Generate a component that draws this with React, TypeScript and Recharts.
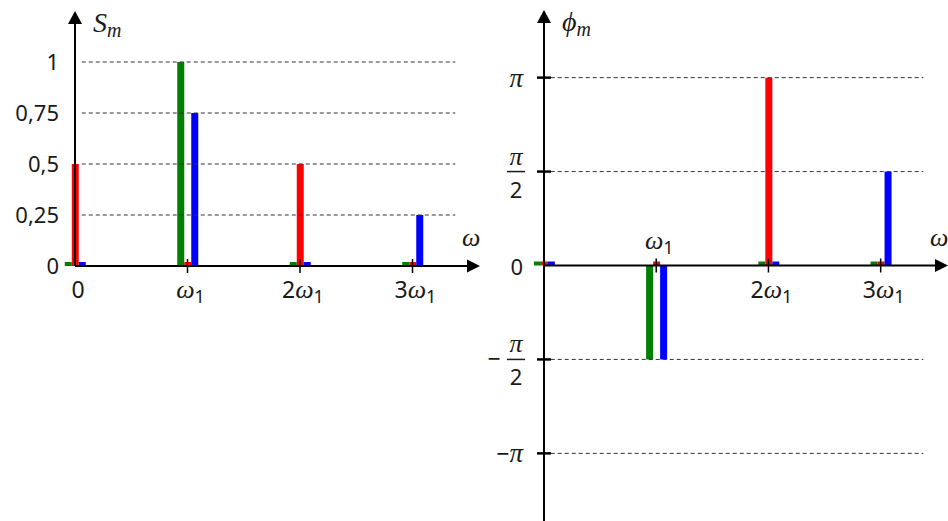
import React from 'react';
import { BarChart, Bar, XAxis, YAxis, ReferenceLine, ReferenceDot } from 'recharts';

// harmonic index m (frequency m·ω1)
const harmonics = [0, 1, 2, 3];
const harmonicLabels = ['0', 'ω1', '2ω1', '3ω1'];

// amplitude spectrum S_m of the three signals
const ampGreen = [0, 1, 0, 0];
const ampRed = [0.5, 0, 0.5, 0];
const ampBlue = [0, 0.75, 0, 0.25];
const ampTicks = [0, 0.25, 0.5, 0.75, 1];
const ampTickLabels = ['0', '0,25', '0,5', '0,75', '1'];

// phase spectrum φ_m, in multiples of π
const phaseGreen = [0, -0.5, 0, 0];
const phaseRed = [0, 0, 1, 0];
const phaseBlue = [0, -0.5, 0, 0.5];
const phaseTicks = [-1, -0.5, 0, 0.5, 1];
const phaseTickLabels = ['−π', '−π/2', '0', 'π/2', 'π'];

const GREEN = '#008000';
const RED = '#ff0000';
const BLUE = '#0000ff';
const INK = '#1a1a1a';
const SANS = '"Noto Sans", "Open Sans", sans-serif';
const MATH = '"Liberation Serif", "DejaVu Serif", serif';
const X_MAX = 3.6;
const GRID_X0 = 0.06;
const GRID_X1 = 3.38;

const ampData = harmonics.map((h, i) => ({ h, g: ampGreen[i], r: ampRed[i], b: ampBlue[i] }));
const phaseData = harmonics.map((h, i) => ({ h, g: phaseGreen[i], r: phaseRed[i], b: phaseBlue[i] }));

// "2ω1" -> 2, italic ω, subscript 1
function omegaText(label: string) {
  const k = label.indexOf('ω');
  if (k < 0) return <tspan fontFamily={SANS}>{label}</tspan>;
  return (
    <>
      {k > 0 && <tspan fontFamily={SANS}>{label.slice(0, k)}</tspan>}
      <tspan fontFamily={MATH} fontStyle="italic" fontSize={26}>ω</tspan>
      <tspan fontFamily={SANS} fontSize={18} dy={5}>{label.slice(k + 1)}</tspan>
    </>
  );
}

const xAxisArrow = (p: any) => {
  const y = p.y1;
  const xs = Math.min(p.x1, p.x2);
  const xe = Math.max(p.x1, p.x2);
  return (
    <g>
      <line x1={xs} y1={y} x2={xe - 10} y2={y} stroke="#000" strokeWidth={2} />
      <polygon points={`${xe},${y} ${xe - 13},${y - 6.5} ${xe - 13},${y + 6.5}`} fill="#000" />
    </g>
  );
};

const yAxisArrow = (p: any) => {
  const x = p.x1;
  const top = Math.min(p.y1, p.y2);
  const bottom = Math.max(p.y1, p.y2);
  return (
    <g>
      <line x1={x} y1={bottom} x2={x} y2={top + 10} stroke="#000" strokeWidth={2} />
      <polygon points={`${x},${top} ${x - 7},${top + 13} ${x + 7},${top + 13}`} fill="#000" />
    </g>
  );
};

function xTickShape(label: string, mark: boolean, showLabel: boolean, above: boolean) {
  return (p: any) => (
    <g>
      {mark && <line x1={p.cx} y1={p.cy - 7} x2={p.cx} y2={p.cy + 7} stroke="#000" strokeWidth={1.5} />}
      {showLabel && (
        <text x={p.cx + 3} y={above ? p.cy - 17 : p.cy + 32} textAnchor="middle" fontSize={23} fill={INK}>
          {omegaText(label)}
        </text>
      )}
    </g>
  );
}

const AmpTick = (p: any) => {
  const { x, y, payload } = p;
  const label = ampTickLabels[ampTicks.indexOf(payload.value)];
  return (
    <text x={x - 16} y={y + 8} textAnchor="end" fontFamily={SANS} fontSize={22} fill={INK}>
      {label}
    </text>
  );
};

const PhaseTick = (p: any) => {
  const { x, y, payload } = p;
  const label = phaseTickLabels[phaseTicks.indexOf(payload.value)];
  const neg = label.startsWith('−');
  const body = neg ? label.slice(1) : label;
  const fx = x - 28;
  return (
    <g>
      {payload.value !== 0 && <line x1={x - 7} y1={y} x2={x + 7} y2={y} stroke="#000" strokeWidth={2.5} />}
      {body.includes('/') ? (
        <g fill={INK}>
          {neg && (
            <text x={x - 50} y={y + 8} textAnchor="middle" fontFamily={SANS} fontSize={23}>−</text>
          )}
          <text x={fx} y={y - 7} textAnchor="middle" fontFamily={MATH} fontStyle="italic" fontSize={26}>π</text>
          <line x1={fx - 9} y1={y} x2={fx + 9} y2={y} stroke={INK} strokeWidth={1.5} />
          <text x={fx} y={y + 26} textAnchor="middle" fontFamily={SANS} fontSize={22}>2</text>
        </g>
      ) : (
        <text x={x - 21} y={y + 9} textAnchor="end" fontSize={22} fill={INK}>
          {neg && <tspan fontFamily={SANS} fontSize={23}>−</tspan>}
          {body === '0' ? (
            <tspan fontFamily={SANS}>0</tspan>
          ) : (
            <tspan fontFamily={MATH} fontStyle="italic" fontSize={27}>π</tspan>
          )}
        </text>
      )}
    </g>
  );
};

const axisName = (p: any) => (
  <text x={p.cx - 18} y={p.cy - 20} fontFamily={MATH} fontStyle="italic" fontSize={26} fill={INK}>ω</text>
);

function titleShape(symbol: string) {
  return (p: any) => (
    <text x={p.cx + 18} y={p.cy + 21} fill={INK}>
      <tspan fontFamily={MATH} fontStyle="italic" fontSize={28}>{symbol}</tspan>
      <tspan fontFamily={MATH} fontStyle="italic" fontSize={20} dy={5}>m</tspan>
    </text>
  );
}

interface SpectrumProps {
  width: number;
  height: number;
  margin: { top: number; right: number; bottom: number; left: number };
  yAxisWidth: number;
  data: { h: number; g: number; r: number; b: number }[];
  yDomain: [number, number];
  yTicks: number[];
  yTick: (p: any) => React.ReactElement;
  title: string;
  showZeroLabel: boolean;
  labelsAbove: number[];
}

function SpectrumChart(props: SpectrumProps) {
  const { width, height, margin, yAxisWidth, data, yDomain, yTicks, yTick, title, showZeroLabel, labelsAbove } = props;
  return (
    <BarChart width={width} height={height} data={data} margin={margin} barGap={0}>
      <XAxis type="number" dataKey="h" domain={[0, X_MAX]} hide />
      <YAxis
        type="number"
        domain={yDomain}
        ticks={yTicks}
        width={yAxisWidth}
        axisLine={false}
        tickLine={false}
        tickSize={0}
        tickMargin={0}
        interval={0}
        tick={yTick}
      />
      {yTicks
        .filter((t) => t !== 0)
        .map((t) => (
          <ReferenceLine
            key={'grid' + t}
            segment={[{ x: GRID_X0, y: t }, { x: GRID_X1, y: t }]}
            stroke="#333"
            strokeDasharray="4 3"
          />
        ))}
      <Bar dataKey="g" fill={GREEN} barSize={7} minPointSize={4} isAnimationActive={false} />
      <Bar dataKey="r" fill={RED} barSize={7} minPointSize={4} isAnimationActive={false} />
      <Bar dataKey="b" fill={BLUE} barSize={7} minPointSize={4} isAnimationActive={false} />
      <ReferenceLine y={0} shape={xAxisArrow} />
      <ReferenceLine x={0} shape={yAxisArrow} />
      {harmonics.map((h, i) => (
        <ReferenceDot
          key={'tick' + h}
          x={h}
          y={0}
          ifOverflow="visible"
          shape={xTickShape(harmonicLabels[i], h > 0, h > 0 || showZeroLabel, labelsAbove.includes(i))}
        />
      ))}
      <ReferenceDot x={X_MAX} y={0} ifOverflow="visible" shape={axisName} />
      <ReferenceDot x={0} y={yDomain[1]} ifOverflow="visible" shape={titleShape(title)} />
    </BarChart>
  );
}

export default function App() {
  return (
    <div style={{ position: 'absolute', left: 0, top: 0, width: 948, height: 521, display: 'flex', alignItems: 'flex-start', background: '#fff' }}>
      <SpectrumChart
        width={480}
        height={521}
        margin={{ top: 11, right: 0, bottom: 255, left: 0 }}
        yAxisWidth={75}
        data={ampData}
        yDomain={[0, 1.25]}
        yTicks={ampTicks}
        yTick={AmpTick}
        title="S"
        showZeroLabel={true}
        labelsAbove={[]}
      />
      <SpectrumChart
        width={468}
        height={521}
        margin={{ top: 10, right: 0, bottom: 0, left: 0 }}
        yAxisWidth={64}
        data={phaseData}
        yDomain={[-1.36, 1.36]}
        yTicks={phaseTicks}
        yTick={PhaseTick}
        title="ϕ"
        showZeroLabel={false}
        labelsAbove={[1]}
      />
    </div>
  );
}
